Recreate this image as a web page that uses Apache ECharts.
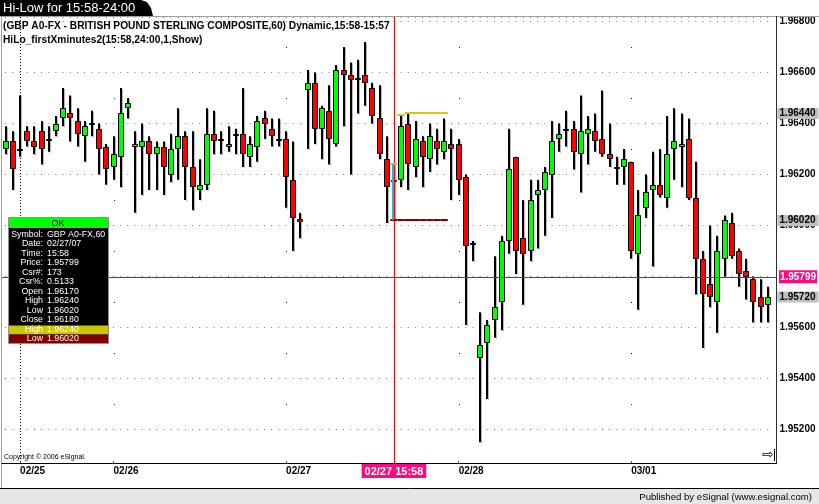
<!DOCTYPE html>
<html><head><meta charset="utf-8">
<script src="https://cdn.jsdelivr.net/npm/echarts@6/dist/echarts.min.js"></script>
<style>html,body{margin:0;padding:0;background:#fff}#c{width:819px;height:504px}</style>
</head><body><div id="c"></div>
<script>
// ---- categories (hourly bars) ----
const sessions = [['02/23',22,2],['02/25',11,13],['02/26',0,24],['02/27',0,24],['02/28',0,24],['03/01',0,20]];
const categories = [];
sessions.forEach(([d,h0,n])=>{for(let k=0;k<n;k++){const h=h0+k;categories.push(d+' '+(h<10?'0':'')+h+':00');}});
const tickDates = ['02/25','02/26','02/27','02/28','03/01'];
const tickIdx = tickDates.map(d=>categories.findIndex(c=>c.startsWith(d)));

// ---- OHLC values ----
const opens = [1.9630,1.9633,1.9630,1.9637,1.9633,1.9637,1.9633,1.9637,1.9642,1.9644,
1.9641,1.9635,1.9640,1.9638,1.9631,1.9623,1.9627,1.9646,1.9631,1.9631,
1.9633,1.9628,1.9631,1.9620,1.9630,1.9635,1.9623,1.9614,1.9616,1.9636,
1.9634,1.9631,1.9635,1.9636,1.9627,1.9631,1.9642,1.9638,1.9634,1.9634,
1.9618,1.96025,1.9653,1.9656,1.9638,1.9645,1.9632,1.9661,1.9659,1.9658,
1.9659,1.9654,1.9642,1.9626,1.9617,1.9618,1.9640,1.9623,1.9633,1.9626,
1.9633,1.9629,1.9632,1.9632,1.9619,1.9593,1.9548,1.9554,1.9563,1.9570,
1.9594,1.9627,1.9595,1.9590,1.9612,1.9614,1.9620,1.9634,1.9638,1.9638,
1.9628,1.9636,1.9637,1.9634,1.9628,1.9623,1.9623,1.9625,1.9589,1.9607,
1.9614,1.9616,1.9611,1.9630,1.9631,1.9634,1.9611,1.9587,1.9577,1.9570,
1.9587,1.9601,1.9590,1.9582,1.9579,1.9572,1.9569];
const highs = [1.9639,1.9637,1.9651,1.9639,1.9639,1.9641,1.9639,1.9643,1.9654,1.9651,
1.9646,1.9641,1.9645,1.9640,1.9632,1.9635,1.9654,1.9650,1.9637,1.9640,
1.9635,1.9633,1.9633,1.9636,1.9646,1.9637,1.9637,1.9626,1.9646,1.9645,
1.9637,1.9639,1.9638,1.9654,1.9635,1.9643,1.9645,1.9642,1.9642,1.9637,
1.9633,1.9605,1.9661,1.9660,1.9647,1.9655,1.9663,1.9670,1.9664,1.9665,
1.9672,1.9656,1.9655,1.9635,1.9624,1.96433,1.9644,1.9641,1.9635,1.9640,
1.9638,1.9642,1.9638,1.9634,1.9620,1.9594,1.9566,1.9563,1.9588,1.9596,
1.9638,1.9627,1.9610,1.9618,1.9618,1.9623,1.9641,1.9640,1.9645,1.9641,
1.9651,1.9643,1.9644,1.9653,1.9640,1.9627,1.9630,1.9625,1.9614,1.9620,
1.9629,1.9630,1.9643,1.9646,1.9644,1.9642,1.9625,1.9590,1.9600,1.9596,
1.9604,1.9605,1.9591,1.9587,1.9580,1.9579,1.9576];
const lows = [1.9628,1.9614,1.9627,1.9631,1.9628,1.9624,1.9629,1.9635,1.9639,1.9633,
1.9631,1.9625,1.9635,1.9620,1.9616,1.9618,1.9615,1.9642,1.9605,1.9612,
1.9614,1.9614,1.9612,1.9617,1.9618,1.9610,1.9606,1.9610,1.9614,1.9628,
1.9628,1.9629,1.9628,1.9623,1.9623,1.9625,1.9634,1.9631,1.9631,1.9607,
1.9590,1.9595,1.9630,1.9632,1.9626,1.9624,1.9631,1.9639,1.9620,1.9644,
1.9647,1.9640,1.9626,1.9601,1.9602,1.9615,1.9614,1.9619,1.9615,1.9621,
1.9624,1.9626,1.9610,1.9612,1.9561,1.9586,1.9515,1.9532,1.9556,1.9559,
1.9589,1.9581,1.9569,1.9586,1.9591,1.9596,1.9603,1.9629,1.9631,1.9622,
1.9613,1.9624,1.9629,1.9627,1.9623,1.9616,1.9616,1.9587,1.9567,1.9603,
1.9584,1.9611,1.9607,1.9618,1.9615,1.9610,1.9573,1.9552,1.9568,1.9558,
1.9580,1.9587,1.9576,1.9571,1.9562,1.9562,1.9562];
const closes = [1.9633,1.9622,1.9630,1.9633,1.9631,1.9630,1.9634,1.9640,1.9646,1.9642,
1.9636,1.9639,1.96402,1.9630,1.9622,1.9628,1.9644,1.9648,1.9632,1.9633,
1.9628,1.9631,1.9623,1.9630,1.9635,1.9623,1.9615,1.9616,1.9636,1.9633,
1.9634,1.9632,1.9636,1.9628,1.9632,1.9641,1.9640,1.9635,1.9634,1.9619,
1.9603,1.96015,1.9656,1.9638,1.9646,1.9634,1.9661,1.9659,1.9657,1.9658,
1.9656,1.9643,1.9628,1.9615,1.9618,1.9639,1.9624,1.9634,1.9627,1.9635,
1.9630,1.9633,1.9630,1.9618,1.9592,1.95925,1.9553,1.9561,1.9568,1.9594,
1.9622,1.9590,1.9589,1.9610,1.9614,1.9621,1.9633,1.9636,1.9638,1.9629,
1.9637,1.9638,1.9633,1.9628,1.9626,1.9623,1.9626,1.9590,1.9604,1.9613,
1.9616,1.9612,1.9628,1.9633,1.9632,1.9611,1.9587,1.9573,1.9572,1.9590,
1.9602,1.9588,1.9581,1.9580,1.9570,1.9568,1.9572];

// ---- HiLo_firstXminutes indicator ----
const hiloBars = ['02/27 15:00','02/27 16:00','02/27 17:00','02/27 18:00','02/27 19:00','02/27 20:00','02/27 21:00','02/27 22:00'];
const hiloHigh = [1.96240,1.96433,1.96440,1.96440,1.96440,1.96440,1.96440,1.96440];
const hiloLow  = [1.96020,1.96020,1.96020,1.96020,1.96020,1.96020,1.96020,1.96020];

// ---- cursor & price markers ----
const cursorBar = '02/27 15:00';
const cursorText = '02/27 15:58';
const cursorPrice = 1.95799;
const markerLevels = [1.96440, 1.96020, 1.95720];
const oddLevels = [1.953,1.955,1.957,1.959,1.961,1.963,1.965,1.967];

// ---- data window texts ----
const dwLabels = ['Symbol:','Date:','Time:','Price:','Csr#:','Csr%:','Open','High','Low','Close'];
const dwValues = ['GBP A0-FX,60','02/27/07','15:58','1.95799','173','0.5133','1.96170','1.96240','1.96020','1.96180'];
const dwHiLo = [['High','1.96240'],['Low','1.96020']];

const FONT = 'Liberation Sans';
const yMin = 1.95069, yMax = 1.96818;

const chart = echarts.init(document.getElementById('c'), null, {renderer:'canvas'});

const candleData = categories.map((c,i)=>[i, opens[i], closes[i], lows[i], highs[i]]);
const hiloData = hiloBars.map((b,k)=>[categories.indexOf(b), hiloHigh[k], hiloLow[k]]);
const cursorIdx = categories.indexOf(cursorBar);

const graphics = [];
const f = (px, bold)=> (bold?'bold ':'') + px + 'px "' + FONT + '"';
// top tab
graphics.push({type:'polygon', shape:{points:[[0,0],[141,0],[147,2],[151,8],[153,16],[0,16]]}, style:{fill:'#000'}, z:50});
graphics.push({type:'text', x:3, y:8, style:{text:'Hi-Low for 15:58-24:00', fill:'#fff', font:f(13), textVerticalAlign:'middle'}, z:51});
graphics.push({type:'line', shape:{x1:0,y1:16.5,x2:819,y2:16.5}, style:{stroke:'#a0a0a0', lineWidth:1}, z:50});
graphics.push({type:'line', shape:{x1:1.5,y1:16,x2:1.5,y2:490}, style:{stroke:'#a0a0a0', lineWidth:1}, z:50});
graphics.push({type:'line', shape:{x1:776.5,y1:16,x2:776.5,y2:463.5}, style:{stroke:'#303030', lineWidth:1}, z:50});
graphics.push({type:'line', shape:{x1:1.5,y1:463.5,x2:777,y2:463.5}, style:{stroke:'#000', lineWidth:1}, z:50});
graphics.push({type:'rect', shape:{x:0,y:489,width:819,height:15}, style:{fill:'#e6e6e6'}, z:50});
graphics.push({type:'line', shape:{x1:0,y1:488.5,x2:819,y2:488.5}, style:{stroke:'#000', lineWidth:1}, z:51});
graphics.push({type:'text', x:812, y:497, style:{text:'Published by eSignal (www.esignal.com)', fill:'#000', font:f(9.6), textAlign:'right', textVerticalAlign:'middle'}, z:51});
// titles
graphics.push({type:'text', x:3, y:26, style:{text:'(GBP A0-FX - BRITISH POUND STERLING COMPOSITE,60) Dynamic,15:58-15:57', fill:'#000', font:f(10.2,true), textVerticalAlign:'middle'}, z:40});
graphics.push({type:'text', x:3, y:40, style:{text:'HiLo_firstXminutes2(15:58,24:00,1,Show)', fill:'#000', font:f(10.2,true), textVerticalAlign:'middle'}, z:40});
graphics.push({type:'text', x:4, y:457, style:{text:'Copyright \u00a9 2006 eSignal.', fill:'#000', font:f(7), textVerticalAlign:'middle'}, z:40});
// scroll icon
graphics.push({type:'text', x:768, y:455, style:{text:'\u21e8', fill:'#000', font:'14px "DejaVu Sans"', textAlign:'center', textVerticalAlign:'middle'}, z:40});
graphics.push({type:'line', shape:{x1:774.5,y1:449,x2:774.5,y2:461}, style:{stroke:'#000', lineWidth:1}, z:40});
// data window
graphics.push({type:'rect', shape:{x:8.5,y:217.5,width:100,height:126}, style:{fill:'#000', stroke:'#909090', lineWidth:1}, z:60});
graphics.push({type:'rect', shape:{x:9,y:218,width:99,height:10}, style:{fill:'#00ff00'}, z:61});
graphics.push({type:'text', x:58, y:223.5, style:{text:'OK', fill:'#000', font:f(9), textAlign:'center', textVerticalAlign:'middle'}, z:62});
dwLabels.forEach((l,k)=>{
  const y = 234.3 + k*9.5;
  graphics.push({type:'text', x:43, y:y, style:{text:l, fill:'#fff', font:f(8.8), textAlign:'right', textVerticalAlign:'middle'}, z:62});
  graphics.push({type:'text', x:47, y:y, style:{text:dwValues[k], fill:'#fff', font:f(8.8), textAlign:'left', textVerticalAlign:'middle'}, z:62});
});
graphics.push({type:'rect', shape:{x:9,y:325.5,width:99,height:9}, style:{fill:'#c8c800'}, z:61});
graphics.push({type:'rect', shape:{x:9,y:334.5,width:99,height:8.5}, style:{fill:'#800000'}, z:61});
dwHiLo.forEach(([l,v],k)=>{
  const y = 330 + k*9;
  graphics.push({type:'text', x:43, y:y, style:{text:l, fill:'#fff', font:f(8.8), textAlign:'right', textVerticalAlign:'middle'}, z:62});
  graphics.push({type:'text', x:47, y:y, style:{text:v, fill:'#fff', font:f(8.8), textVerticalAlign:'middle'}, z:62});
});

const hidden = {color:'rgba(255,255,255,0)', width:0, opacity:1};
const grayLabel = (v)=>({yAxis:v, lineStyle:hidden, label:{show:true, position:'end', distance:6, formatter:v.toFixed(5), backgroundColor:'#c0c0c0', color:'#000', fontWeight:'bold', fontSize:10, fontFamily:FONT, padding:[1,3,0,2]}});

const option = {
  animation:false,
  backgroundColor:'#ffffff',
  grid:{left:2.1, right:47.6, top:17, bottom:41, outerBoundsMode:'none', containLabel:false},
  xAxis:{type:'category', data:categories, boundaryGap:true,
    axisLine:{show:false},
    axisTick:{show:true, inside:true, length:2, interval:(i)=>tickIdx.includes(i), alignWithLabel:true, lineStyle:{color:'#606060'}},
    axisLabel:{interval:(i)=>tickIdx.includes(i), formatter:(v)=>v.split(' ')[0], align:'left', margin:3, color:'#000', fontWeight:'bold', fontSize:10, fontFamily:FONT},
    splitLine:{show:false}},
  yAxis:{type:'value', position:'right', min:yMin, max:yMax, splitNumber:8, minInterval:0.002, maxInterval:0.002, scale:true,
    axisLine:{show:false}, axisTick:{show:false},
    axisLabel:{margin:8, showMinLabel:false, showMaxLabel:false, formatter:(v)=>v.toFixed(5), color:'#000', fontWeight:'bold', fontSize:10, fontFamily:FONT},
    splitLine:{show:true, lineStyle:{color:'#808080', width:1, type:[1,6.19], dashOffset:4.19}}},
  graphic: graphics,
  series:[
    {type:'custom', name:'dayLines', data:tickIdx.map(i=>[i, yMin]), encode:{x:0,y:1}, clip:true, z:1, silent:true,
      renderItem:(params, api)=>{
        const i = api.value(0); const cs = params.coordSys;
        const x = Math.round(api.coord([i, yMin])[0]) + 0.5;
        if (params.dataIndex===0) return {type:'line', shape:{x1:x,y1:cs.y,x2:x,y2:cs.y+cs.height}, style:{stroke:'#000', lineWidth:1, lineDash:[1,2]}};
        return {type:'group', children: oddLevels.map(v=>{const p = api.coord([i,v]); return {type:'rect', shape:{x:x-0.5,y:Math.round(p[1]),width:1,height:1}, style:{fill:'#202020'}};})};
      }},
    {type:'custom', name:'GBP A0-FX', data:candleData, encode:{x:0, y:[1,2,3,4]}, clip:true, z:3, silent:true,
      renderItem:(params, api)=>{
        const i=api.value(0), o=api.value(1), c=api.value(2), l=api.value(3), h=api.value(4);
        const pH=api.coord([i,h]), pL=api.coord([i,l]), pO=api.coord([i,o]), pC=api.coord([i,c]);
        const x = Math.round(pH[0]);
        const top = Math.round(Math.min(pO[1],pC[1])), bot = Math.round(Math.max(pO[1],pC[1]));
        const fill = c>o ? '#00ff00' : (c<o ? '#ff0000' : '#000000');
        const hgt = Math.max(2, bot-top);
        return {type:'group', children:[
          {type:'line', shape:{x1:x+1.5,y1:pH[1]+1,x2:x+1.5,y2:pL[1]+1}, style:{stroke:'#b8b8b8', lineWidth:1}},
          {type:'line', shape:{x1:x,y1:pH[1],x2:x,y2:pL[1]}, style:{stroke:'#000', lineWidth:2}},
          {type:'rect', shape:{x:x-2.5,y:top+0.5,width:5,height:hgt-1}, style:{fill:fill, stroke:'#000', lineWidth:1}}
        ]};
      }},
    {type:'custom', name:'cursorLines', data:[[cursorIdx, cursorPrice]], encode:{x:0,y:1}, clip:false, z:8, silent:true,
      renderItem:(params, api)=>{
        const cs = params.coordSys;
        const p = api.coord([api.value(0), api.value(1)]);
        const x = Math.round(p[0]) + 0.5, y = Math.round(p[1]) + 0.5;
        return {type:'group', children:[
          {type:'line', shape:{x1:cs.x, y1:y, x2:776, y2:y}, style:{stroke:'#ff0000', lineWidth:1}},
          {type:'line', shape:{x1:x, y1:cs.y, x2:x, y2:cs.y+cs.height}, style:{stroke:'#ff0000', lineWidth:1}}
        ]};
      }},
    {type:'line', name:'labels', data:closes, symbol:'none', silent:true, z:10,
      lineStyle:{width:0, color:'rgba(0,0,0,0)'}, itemStyle:{color:'#ff0000'},
      markLine:{symbol:['none','none'], silent:true, animation:false, precision:6,
        data:[
          grayLabel(markerLevels[0]), grayLabel(markerLevels[1]), grayLabel(markerLevels[2]),
          {xAxis:cursorBar, lineStyle:hidden, label:{show:true, position:'start', distance:1, formatter:cursorText, backgroundColor:'#ff0a80', color:'#fff', fontWeight:'bold', fontSize:11, fontFamily:FONT, padding:[2,3,1,3]}},
          {yAxis:cursorPrice, lineStyle:hidden, label:{show:true, position:'end', distance:7.5, formatter:cursorPrice.toFixed(5), backgroundColor:'#ff0a80', color:'#fff', fontWeight:'bold', fontSize:10, fontFamily:FONT, padding:[2,1,1,1]}}
        ]}},
    {type:'custom', name:'HiLo', data:hiloData, encode:{x:0, y:[1,2]}, clip:true, z:20, silent:true,
      renderItem:(params, api)=>{
        const i=api.value(0), h=api.value(1), l=api.value(2);
        const w = api.size([1,0])[0];
        const pH=api.coord([i,h]), pL=api.coord([i,l]);
        const yh = Math.round(pH[1]), yl = Math.round(pL[1]);
        const ch = [
          {type:'line', shape:{x1:pH[0]-w/2,y1:yh,x2:pH[0]+w/2,y2:yh}, style:{stroke:'#cccc00', lineWidth:2}},
          {type:'line', shape:{x1:pL[0]-w/2,y1:yl,x2:pL[0]+w/2,y2:yl}, style:{stroke:'#800000', lineWidth:2}}
        ];
        if (params.dataIndex===0) ch.push({type:'line', shape:{x1:Math.round(pH[0])-1,y1:yh,x2:Math.round(pH[0])-1,y2:yl}, style:{stroke:'#20b8d8', lineWidth:2}});
        return {type:'group', children:ch};
      }}
  ]
};
chart.setOption(option);
</script>
</body></html>
